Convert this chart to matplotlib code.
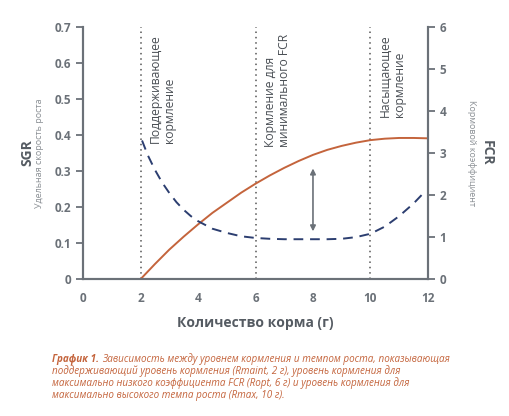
import matplotlib.pyplot as plt

plt.rcParams['font.family'] = ['Open Sans', 'DejaVu Sans']

# Данные
feed_sgr = [2.0, 2.5, 3.0, 3.5, 4.0, 4.5, 5.0, 5.5, 6.0, 6.5, 7.0, 7.5, 8.0,
            8.5, 9.0, 9.5, 10.0, 10.5, 11.0, 11.5, 12.0]
sgr = [0.0, 0.042, 0.082, 0.118, 0.152, 0.184, 0.212, 0.240, 0.265, 0.288,
       0.309, 0.328, 0.345, 0.359, 0.370, 0.379, 0.386, 0.390, 0.392, 0.392, 0.391]

feed_fcr = [2.05, 2.25, 2.5, 2.75, 3.0, 3.25, 3.5, 3.75, 4.0, 4.5, 5.0, 5.5,
            6.0, 6.5, 7.0, 7.5, 8.0, 8.5, 9.0, 9.5, 10.0, 10.5, 11.0, 11.5, 11.85]
fcr = [3.3, 2.95, 2.6, 2.3, 2.05, 1.83, 1.65, 1.5, 1.38, 1.2, 1.1, 1.02,
       0.98, 0.96, 0.95, 0.95, 0.95, 0.95, 0.96, 1.0, 1.08, 1.25, 1.5, 1.8, 2.05]

levels = [2, 6, 10]
level_labels = ["Поддерживающее\nкормление",
                "Кормление для\nминимального FCR",
                "Насыщающее\nкормление"]

caption_head = "График 1."
caption_lines = [
    "Зависимость между уровнем кормления и темпом роста, показывающая",
    "поддерживающий уровень кормления (Rmaint, 2 г), уровень кормления для",
    "максимально низкого коэффициента FCR (Ropt, 6 г) и уровень кормления для",
    "максимально высокого темпа роста (Rmax, 10 г).",
]

gray = '#6b7178'
orange = '#c4643c'
blue = '#2c3e70'

fig = plt.figure(figsize=(5.1, 4.16), dpi=100)
ax = fig.add_axes([0.163, 0.329, 0.676, 0.606])
ax2 = ax.twinx()

ax.plot(feed_sgr, sgr, color=orange, lw=1.4, zorder=3)
ax2.plot(feed_fcr, fcr, color=blue, lw=1.4, ls=(0, (5, 3.5)), zorder=3)

for lv, lab in zip(levels, level_labels):
    ax.axvline(lv, color='#555555', ls=(0, (1, 2.5)), lw=1.1, zorder=1)
    ax.text(lv + 0.3, 0.68, lab, rotation=90, va='top', ha='left',
            fontsize=8.7, color='#4a4f55', linespacing=1.05)

# Стрелка между кривыми
ax.annotate('', xy=(8, 0.315), xytext=(8, 0.125),
            arrowprops=dict(arrowstyle='<|-|>', color=gray, lw=1.2,
                            mutation_scale=8))

ax.set_xlim(0, 12)
ax.set_ylim(0, 0.7)
ax2.set_ylim(0, 6)
ax.set_xticks(range(0, 13, 2))
ax.set_yticks([0, 0.1, 0.2, 0.3, 0.4, 0.5, 0.6, 0.7])
ax.set_yticklabels(['0', '0.1', '0.2', '0.3', '0.4', '0.5', '0.6', '0.7'])
ax2.set_yticks(range(0, 7))

for a in (ax, ax2):
    a.spines['top'].set_visible(False)
    for s in ('left', 'right', 'bottom'):
        a.spines[s].set_color(gray)
        a.spines[s].set_linewidth(1.5)
    a.tick_params(colors=gray, labelsize=8.5, width=1.3, length=5)
    for t in a.get_yticklabels() + a.get_xticklabels():
        t.set_fontweight('bold')
ax.tick_params(axis='x', length=0, pad=9)

ax.set_xlabel("Количество корма (г)", fontsize=10, fontweight='bold',
              color='#555b62', labelpad=8)

fig.text(0.054, 0.632, "SGR", rotation=90, ha='center', va='center',
         fontsize=10, fontweight='bold', color='#555b62')
fig.text(0.078, 0.632, "Удельная скорость роста", rotation=90, ha='center',
         va='center', fontsize=6.5, color='#8a8f94')
fig.text(0.955, 0.632, "FCR", rotation=270, ha='center', va='center',
         fontsize=10, fontweight='bold', color='#555b62')
fig.text(0.925, 0.632, "Кормовой коэффициент", rotation=270, ha='center',
         va='center', fontsize=6.5, color='#8a8f94')

# Подпись
cap_x, cap_y, cap_dy, cap_fs = 0.102, 0.137, 0.0295, 7.15
head = fig.text(cap_x, cap_y, caption_head, fontsize=cap_fs, fontweight='bold',
                style='italic', color=orange, va='center')
renderer = fig.canvas.get_renderer()
bb = head.get_window_extent(renderer).transformed(fig.transFigure.inverted())
fig.text(bb.x1 + 0.006, cap_y, caption_lines[0], fontsize=cap_fs,
         style='italic', color=orange, va='center')
for i, line in enumerate(caption_lines[1:], start=1):
    fig.text(cap_x, cap_y - i * cap_dy, line, fontsize=cap_fs,
             style='italic', color=orange, va='center')

fig.savefig('out.png', dpi=100)
